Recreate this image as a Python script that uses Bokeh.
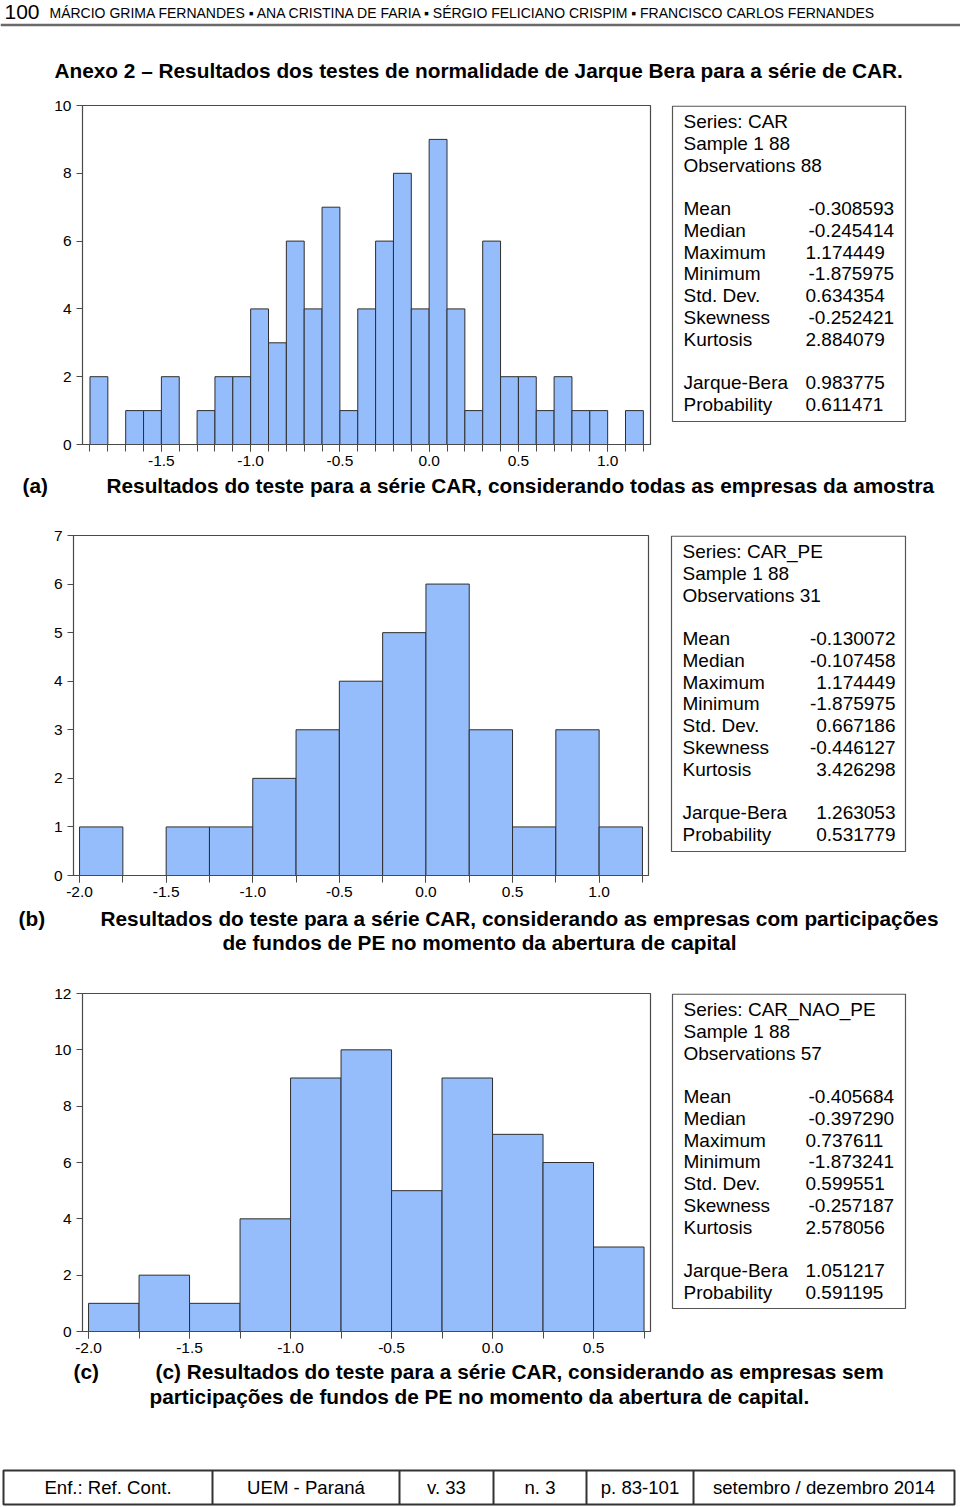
from bokeh.plotting import figure
from bokeh.models import Range1d, FixedTicker, CustomJSTickFormatter
from bokeh.layouts import column, row
from bokeh.embed import file_html
from bokeh.resources import INLINE
from bokeh.core.properties import value

# ---------------- data ----------------
edges_a = [-1.9, -1.8, -1.7, -1.6, -1.5, -1.4, -1.3, -1.2, -1.1, -1.0, -0.9, -0.8,
           -0.7, -0.6, -0.5, -0.4, -0.3, -0.2, -0.1, 0.0, 0.1, 0.2, 0.3, 0.4, 0.5,
           0.6, 0.7, 0.8, 0.9, 1.0, 1.1, 1.2]
counts_a = [2, 0, 1, 1, 2, 0, 1, 2, 2, 4, 3, 6, 4, 7, 1, 4, 6, 8, 4, 9, 4, 1, 6, 2,
            2, 1, 2, 1, 1, 0, 1]
xticks_a = [-1.5, -1.0, -0.5, 0.0, 0.5, 1.0]
yticks_a = [0, 2, 4, 6, 8, 10]

edges_b = [-2.0, -1.75, -1.5, -1.25, -1.0, -0.75, -0.5, -0.25, 0.0, 0.25, 0.5, 0.75, 1.0, 1.25]
counts_b = [1, 0, 1, 1, 2, 3, 4, 5, 6, 3, 1, 3, 1]
xticks_b = [-2.0, -1.5, -1.0, -0.5, 0.0, 0.5, 1.0]
yticks_b = [0, 1, 2, 3, 4, 5, 6, 7]

edges_c = [-2.0, -1.75, -1.5, -1.25, -1.0, -0.75, -0.5, -0.25, 0.0, 0.25, 0.5, 0.75]
counts_c = [1, 2, 1, 4, 9, 10, 5, 9, 7, 6, 3]
xticks_c = [-2.0, -1.5, -1.0, -0.5, 0.0, 0.5]
yticks_c = [0, 2, 4, 6, 8, 10, 12]

stat_names = ["Mean", "Median", "Maximum", "Minimum", "Std. Dev.", "Skewness", "Kurtosis"]
test_names = ["Jarque-Bera", "Probability"]

head_a = ["Series: CAR", "Sample 1 88", "Observations 88"]
stats_a = ["-0.308593", "-0.245414", "1.174449", "-1.875975", "0.634354", "-0.252421", "2.884079"]
tests_a = ["0.983775", "0.611471"]

head_b = ["Series: CAR_PE", "Sample 1 88", "Observations 31"]
stats_b = ["-0.130072", "-0.107458", "1.174449", "-1.875975", "0.667186", "-0.446127", "3.426298"]
tests_b = ["1.263053", "0.531779"]

head_c = ["Series: CAR_NAO_PE", "Sample 1 88", "Observations 57"]
stats_c = ["-0.405684", "-0.397290", "0.737611", "-1.873241", "0.599551", "-0.257187", "2.578056"]
tests_c = ["1.051217", "0.591195"]

page_no = "100"
authors = "MÁRCIO GRIMA FERNANDES ▪ ANA CRISTINA DE FARIA ▪ SÉRGIO FELICIANO CRISPIM ▪ FRANCISCO CARLOS FERNANDES"
title = "Anexo 2 – Resultados dos testes de normalidade de Jarque Bera para a série de CAR."
cap_a = "Resultados do teste para a série CAR, considerando todas as empresas da amostra"
cap_b1 = "Resultados do teste para a série CAR, considerando as empresas com participações"
cap_b2 = "de fundos de PE no momento da abertura de capital"
cap_c1 = "(c) Resultados do teste para a série CAR, considerando as empresas sem"
cap_c2 = "participações de fundos de PE no momento da abertura de capital."
footer_cells = ["Enf.: Ref. Cont.", "UEM - Paraná", "v. 33", "n. 3", "p. 83-101", "setembro / dezembro 2014"]

# ---------------- styles ----------------
FONT = value("Liberation Sans")
BAR = "#95BCFB"
EDGE = "#2e2e2e"
FRAME = "#4a4a4a"
CAPSIZE = "20.8px"


def text_fig(w, h, bt=0, bb=0):
    p = figure(width=w, height=h, x_range=Range1d(0, w), y_range=Range1d(h - bb, bt),
               output_backend="svg", toolbar_location=None,
               min_border_left=0, min_border_right=0, min_border_top=bt, min_border_bottom=bb,
               x_axis_type=None, y_axis_type=None)
    p.outline_line_color = None
    p.background_fill_color = "white"
    p.border_fill_color = "white"
    return p


def put(p, x, y, t, size="19px", bold=False, align="left", font=FONT, color="black"):
    p.text(x=[x], y=[y], text=[t], text_font=font, text_font_size=size,
           text_font_style="bold" if bold else "normal", text_align=align,
           text_baseline="middle", text_color=color)


def hist(edges, counts, xticks, yticks, xr, w, h, bl, br, bt, bb):
    p = figure(width=w, height=h, x_range=Range1d(*xr), y_range=Range1d(yticks[0], yticks[-1]),
               output_backend="svg", toolbar_location=None,
               min_border_left=bl, min_border_right=br, min_border_top=bt, min_border_bottom=bb)
    p.quad(left=edges[:-1], right=edges[1:], bottom=0, top=counts,
           fill_color=BAR, line_color=EDGE, line_width=1)
    p.grid.visible = False
    p.outline_line_color = FRAME
    p.outline_line_width = 1.2
    p.background_fill_color = "white"
    p.border_fill_color = "white"
    xa = p.xaxis[0]
    xa.ticker = FixedTicker(ticks=xticks, minor_ticks=edges)
    xa.formatter = CustomJSTickFormatter(code="return tick.toFixed(1)")
    xa.major_tick_in = 0
    xa.major_tick_out = 7
    xa.minor_tick_in = 0
    xa.minor_tick_out = 7
    xa.major_label_standoff = 4
    ya = p.yaxis[0]
    ya.ticker = FixedTicker(ticks=yticks, minor_ticks=[])
    ya.formatter = CustomJSTickFormatter(code="return tick.toFixed(0)")
    ya.major_tick_in = 0
    ya.major_tick_out = 6
    ya.minor_tick_out = 0
    ya.minor_tick_in = 0
    ya.major_label_standoff = 5
    for ax in (xa, ya):
        ax.axis_line_color = FRAME
        ax.major_tick_line_color = FRAME
        ax.minor_tick_line_color = FRAME
        ax.major_label_text_font = "Liberation Sans"
        ax.major_label_text_font_size = "15.5px"
        ax.major_label_text_color = "black"
    return p


def stats_fig(w, h, bt, bb, box, head, stats, tests, mode, vx):
    # frame is aligned with the neighbouring histogram's frame (same borders)
    p = text_fig(w, h, bt, bb)
    l, r, t, b = box
    p.quad(left=[l], right=[r], top=[t + 0.6], bottom=[b], fill_color=None,
           line_color="#555555", line_width=1.2)
    tx = l + 11
    rows = [0, 1, 2, 4, 5, 6, 7, 8, 9, 10, 12, 13]
    names = head + stat_names + test_names
    vals = [None, None, None] + stats + tests
    for k, i in enumerate(rows):
        y = t + 16 + i * 21.75
        put(p, tx, y, names[k])
        v = vals[k]
        if v is not None:
            if mode == "right":
                put(p, vx, y, v, align="right")
            else:
                put(p, vx + (3 if v.startswith("-") else 0), y, v)
    return p


# ---------------- header ----------------
hdr = text_fig(960, 95)
hdr.line(x=[0, 960], y=[24.5, 24.5], line_color="#6a6a6a", line_width=2.5)
put(hdr, 4, 11, page_no, size="21px", font=value("Liberation Sans Narrow, Liberation Sans"))
put(hdr, 49, 12, authors, size="14px", font=value("Liberation Sans Narrow, Liberation Sans"))
put(hdr, 54, 70, title, size=CAPSIZE, bold=True)

# ---------------- panel a ----------------
ha = hist(edges_a, counts_a, xticks_a, yticks_a, (-1.942, 1.240), 660, 380, 82, 10, 10, 31)
sa = stats_fig(300, 380, 10, 31, (12, 245, 10, 326), head_a, stats_a, tests_a, "left", 145)
ca = text_fig(960, 45)
put(ca, 22, 10, "(a)", size=CAPSIZE, bold=True)
put(ca, 106, 10, cap_a, size=CAPSIZE, bold=True)

# ---------------- panel b ----------------
hb = hist(edges_b, counts_b, xticks_b, yticks_b, (-2.035, 1.285), 660, 385, 73, 12, 15, 30)
sb = stats_fig(300, 385, 15, 30, (11, 245, 15, 331), head_b, stats_b, tests_b, "right", 235)
cb = text_fig(960, 50)
put(cb, 18, 13, "(b)", size=CAPSIZE, bold=True)
put(cb, 100, 13, cap_b1, size=CAPSIZE, bold=True)
put(cb, 479, 37, cap_b2, size=CAPSIZE, bold=True, align="center")

# ---------------- panel c ----------------
hc = hist(edges_c, counts_c, xticks_c, yticks_c, (-2.03, 0.782), 660, 405, 82, 10, 38, 29)
sc = stats_fig(300, 405, 38, 29, (12, 245, 38, 353), head_c, stats_c, tests_c, "left", 145)
cc = text_fig(960, 50)
put(cc, 73, 11, "(c)", size=CAPSIZE, bold=True)
put(cc, 155, 11, cap_c1, size=CAPSIZE, bold=True)
put(cc, 149, 36, cap_c2, size=CAPSIZE, bold=True)

# ---------------- footer ----------------
ft = text_fig(960, 97)
borders = [3, 212, 399, 493, 586, 693, 954]
ft.quad(left=[borders[0]], right=[borders[-1]], top=[60], bottom=[94], fill_color=None,
        line_color="#333333", line_width=2)
for bx in borders[1:-1]:
    ft.line(x=[bx, bx], y=[60, 94], line_color="#333333", line_width=2)
for k, cell in enumerate(footer_cells):
    put(ft, (borders[k] + borders[k + 1]) / 2, 77, cell, size="18.6px", align="center")

page = column(hdr, row(ha, sa), ca, row(hb, sb), cb, row(hc, sc), cc, ft)

open("out.html", "w").write(file_html(page, INLINE))
